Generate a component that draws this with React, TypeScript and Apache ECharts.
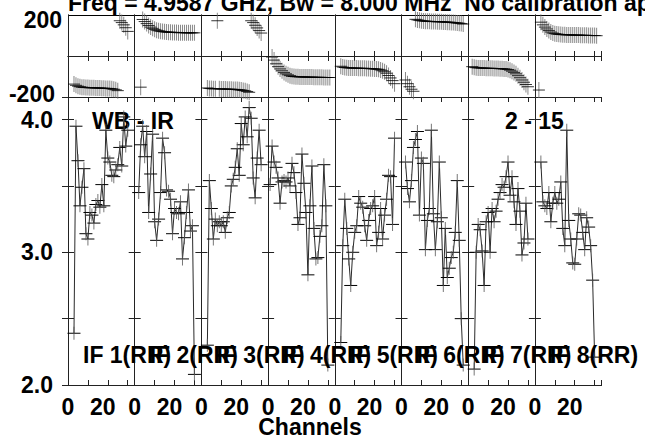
import React, { useEffect, useRef } from "react";
import * as echarts from "echarts";

// ---------- data ----------
const TITLE = "Freq = 4.9587 GHz, Bw = 8.000 MHz  No calibration applied";
const BASELINE_LABEL = "WB - IR";
const SOURCE_LABEL = "2 - 15";
const X_NAME = "Channels";
const IF_LABELS = ["IF 1(RR)", "IF 2(RR)", "IF 3(RR)", "IF 4(RR)", "IF 5(RR)", "IF 6(RR)", "IF 7(RR)", "IF 8(RR)"];

// amplitude per channel (channels 1..32), null = no data
const AMP_IF1 = [null, null, 2.39, 3.95, 3.69, 3.35, 3.49, 3.63, 3.14, 3.10, 3.30, 3.28, 3.22, 3.36, 3.39, 3.34, 3.51, 3.35, 3.92, 3.71, 3.68, 3.58, 3.57, 3.62, 3.66, 3.79, 3.65, 4.02, 3.80, 3.92, null, null];
const AMP_IF2 = [null, 3.45, 3.81, 3.95, 3.72, 3.91, 3.30, 3.59, 3.89, 3.23, 3.09, 3.25, 3.45, 3.86, 3.75, 3.47, 3.46, 3.40, 3.14, 3.33, 3.30, 3.29, 3.38, 2.95, 3.11, 3.30, 3.47, 3.16, 3.20, 2.08, null, null];
const AMP_IF3 = [null, null, 2.30, 3.54, 3.33, 3.10, 3.25, 3.20, 3.23, 3.20, 3.23, 3.15, 3.26, 3.30, 3.50, 3.55, 3.64, 3.78, 3.58, 3.97, 3.81, 4.02, 3.87, 4.09, 4.01, 3.56, 3.41, 3.71, 3.92, 3.66, null, null];
const AMP_IF4 = [3.51, 3.80, 3.68, 3.64, 3.56, 3.37, 3.53, 3.54, 3.53, 3.56, 3.50, 3.67, 3.60, 3.45, 3.21, 3.26, 3.74, 3.52, 3.30, 2.83, 3.35, 3.65, 3.18, 2.95, 2.96, 3.12, 3.20, 3.66, 3.35, 2.15, null, null];
const AMP_IF5 = [null, null, 2.32, 3.05, 3.40, 3.18, 2.95, 2.75, 3.00, 3.15, 3.20, 3.42, 3.37, 3.34, 3.20, 3.09, 3.24, 3.33, 3.35, 3.42, 3.05, 3.15, 3.33, 3.10, 3.28, 3.40, 3.58, 3.57, 3.21, 3.86, null, null];
const AMP_IF6 = [null, 3.68, 3.48, 3.38, 3.54, 3.79, 3.85, 3.91, 3.28, 3.71, 3.67, 3.02, 3.24, 3.33, 3.92, 3.29, 3.02, 3.23, 3.68, 3.26, 2.75, 3.18, 2.81, 2.88, 2.96, 3.00, 3.15, 3.54, 3.09, 2.50, 2.15, null];
const AMP_IF7 = [null, null, 2.12, 3.00, 3.21, 3.17, 3.01, 2.75, 3.23, 3.30, 3.00, 3.33, 3.23, 3.31, 3.40, 3.45, 3.51, 3.49, 3.57, 3.68, 3.43, 3.57, 3.38, 3.21, 3.48, 3.31, 2.98, 3.07, 3.37, 3.10, null, null];
const AMP_IF8 = [null, null, 3.68, 3.38, 3.35, 3.33, 3.45, 3.23, 3.37, 3.45, 3.37, 3.40, 3.53, 3.18, 3.05, 3.92, 3.24, 3.10, 2.92, 2.91, 3.10, 3.29, 3.28, 3.15, 3.02, 3.26, 3.19, 3.05, 2.79, 2.21, null, null];

// phase (degrees) per channel (channels 1..32)
const PHASE_IF1 = [null, null, -137, -143, -147, -150, -152, -153, -154, -154, -155, -155, -155, -156, -156, -156, -157, -157, -158, -158, -159, -160, -162, -165, -169, 172, 163, 152, 138, 120, null, null];
const PHASE_IF2 = [null, null, -152, 178, 168, 158, 149, 141, 135, 130, 126, 123, 121, 119, 118, 117, 116, 116, 115, 115, 115, 114, 114, 114, 114, 113, 113, 113, 113, 113, null, null];
const PHASE_IF3 = [null, null, -156, -158, -159, -160, -160, 172, -160, -161, -161, -161, -162, -162, -162, -163, -163, -164, -165, -166, -168, -170, -173, -177, 172, 163, 150, 137, 124, 112, null, null];
const PHASE_IF4 = [null, -5, -20, -38, -52, -63, -72, -80, -87, -92, -96, -99, -100, -101, -101, -102, -102, -102, -103, -103, -103, -103, -104, -104, -104, -104, -104, -105, -105, -105, -105, null];
const PHASE_IF5 = [null, null, -50, -54, -56, -57, -58, -58, -59, -59, -59, -60, -60, -60, -60, -61, -61, -62, -62, -63, -64, -65, -68, -72, -77, -84, -95, -107, -120, -135, null, null];
const PHASE_IF6 = [null, -117, -135, -150, -162, -172, 179, 176, 174, 172, 171, 170, 169, 169, 168, 168, 168, 167, 167, 167, 166, 166, 165, 165, 164, 163, 162, 161, 160, 158, 156, null];
const PHASE_IF7 = [null, -52, -55, -57, -58, -58, -59, -59, -60, -60, -60, -60, -61, -61, -61, -62, -62, -63, -64, -66, -69, -74, -80, -87, -96, -106, -117, -128, -139, -150, null, null];
const PHASE_IF8 = [null, -166, 165, 152, 141, 132, 124, 117, 112, 109, 107, 106, 105, 104, 104, 103, 103, 103, 102, 102, 102, 102, 101, 101, 101, 101, 100, 100, 100, 100, 99, null];

const AMP = [AMP_IF1, AMP_IF2, AMP_IF3, AMP_IF4, AMP_IF5, AMP_IF6, AMP_IF7, AMP_IF8];
const PHASE = [PHASE_IF1, PHASE_IF2, PHASE_IF3, PHASE_IF4, PHASE_IF5, PHASE_IF6, PHASE_IF7, PHASE_IF8];

// ---------- layout ----------
const LEFT = 68;
const PANEL_W = 66.7;
const PHASE_TOP = 15;
const PHASE_H = 82;
const AMP_TOP = 97;
const AMP_H = 288;
const FONT = "'Liberation Sans', Arial, Helvetica, sans-serif";
const FS = 23;

const toPairs = (arr: (number | null)[]) =>
  arr.map((v, i) => (v == null ? null : [i + 1, v])).filter((p) => p !== null) as number[][];

const txt = (extra: any = {}) => ({ fontSize: FS, fontWeight: "bold", fontFamily: FONT, color: "#000", ...extra });

function buildOption() {
  const grid: any[] = [];
  const xAxis: any[] = [];
  const yAxis: any[] = [];
  const series: any[] = [];
  const axisLine = { show: true, lineStyle: { color: "#222", width: 1 } };

  for (let i = 0; i < 8; i++) {
    const left = LEFT + i * PANEL_W;
    const gp = grid.length;
    grid.push({ left, width: PANEL_W, top: PHASE_TOP, height: PHASE_H });
    const ga = grid.length;
    grid.push({ left, width: PANEL_W, top: AMP_TOP, height: AMP_H });

    const xa = (gridIndex: number, position: string, labels: boolean) => ({
      type: "value",
      gridIndex,
      position,
      min: 0,
      max: 33.5,
      interval: 10,
      axisLine,
      axisTick: { show: true, inside: true, length: 5, lineStyle: { color: "#222" } },
      splitLine: { show: false },
      axisLabel: labels
        ? {
            show: true,
            margin: 10,
            ...txt(),
            formatter: (v: number) => (v === 0 ? "{a|0}" : v === 20 ? "{b|20}" : ""),
            rich: { a: txt(), b: txt({ padding: [0, 10, 0, 0] }) },
          }
        : { show: false },
    });
    const xpBottom = xAxis.length;
    xAxis.push(xa(gp, "bottom", false));
    xAxis.push(xa(gp, "top", false));
    const xaBottom = xAxis.length;
    xAxis.push(xa(ga, "bottom", true));
    xAxis.push(xa(ga, "top", false));

    const ypLeft = yAxis.length;
    yAxis.push({
      type: "value",
      gridIndex: gp,
      position: "left",
      min: -200,
      max: 200,
      interval: 200,
      axisLine,
      axisTick: { show: false },
      splitLine: { show: true, lineStyle: { color: "#000", width: 1 } },
      axisLabel:
        i === 0
          ? {
              show: true,
              margin: 6,
              ...txt(),
              formatter: (v: number) => (v === 200 ? "{t|200}" : v === -200 ? "{m|-200}" : ""),
              rich: { t: txt({ padding: [10, 0, 0, 0] }), m: txt({ padding: [0, 7, 6, 0] }) },
            }
          : { show: false },
    });
    yAxis.push({
      type: "value",
      gridIndex: gp,
      position: "right",
      min: -200,
      max: 200,
      interval: 200,
      axisLine,
      axisTick: { show: false },
      splitLine: { show: false },
      axisLabel: { show: false },
    });
    const yaLeft = yAxis.length;
    const ampAxis = (position: string, labels: boolean) => ({
      type: "value",
      gridIndex: ga,
      position,
      min: 2,
      max: 4.17,
      interval: 0.5,
      axisLine,
      axisTick: { show: true, inside: true, length: 6, lineStyle: { color: "#222" } },
      splitLine: { show: false },
      axisLabel: labels
        ? {
            show: true,
            margin: 15,
            ...txt(),
            formatter: (v: number) => (v === 2 || v === 3 || v === 4 ? v.toFixed(1) : ""),
          }
        : { show: false },
    });
    yAxis.push(ampAxis("left", i === 0));
    yAxis.push(ampAxis("right", false));

    const ph = toPairs(PHASE[i]);
    const am = toPairs(AMP[i]);

    series.push({
      type: "scatter",
      xAxisIndex: xpBottom,
      yAxisIndex: ypLeft,
      data: ph,
      symbol: "rect",
      symbolSize: [1, 16],
      itemStyle: { color: "#6a6a6a" },
      z: 3,
    });
    series.push({
      type: "scatter",
      xAxisIndex: xpBottom,
      yAxisIndex: ypLeft,
      data: ph,
      symbol: "rect",
      symbolSize: [12, 1],
      itemStyle: { color: "#000" },
      z: 4,
    });
    series.push({
      type: "line",
      xAxisIndex: xaBottom,
      yAxisIndex: yaLeft,
      data: am,
      symbol: "rect",
      symbolSize: [13, 1],
      showSymbol: true,
      itemStyle: { color: "#000" },
      lineStyle: { color: "#2a2a2a", width: 1 },
      z: 3,
    });
    series.push({
      type: "scatter",
      xAxisIndex: xaBottom,
      yAxisIndex: yaLeft,
      data: am,
      symbol: "rect",
      symbolSize: [1, 13],
      itemStyle: { color: "#555" },
      z: 4,
    });
  }

  const graphic: any[] = [
    { type: "text", left: LEFT, top: -9, style: { text: TITLE, font: `bold ${FS}px ${FONT}`, fill: "#000" } },
    { type: "text", x: 92, y: 121, style: { text: BASELINE_LABEL, font: `bold ${FS}px ${FONT}`, fill: "#000", verticalAlign: "middle" } },
    { type: "text", x: 505, y: 121, style: { text: SOURCE_LABEL, font: `bold ${FS}px ${FONT}`, fill: "#000", verticalAlign: "middle" } },
    { type: "text", x: 310, y: 427, style: { text: X_NAME, font: `bold ${FS}px ${FONT}`, fill: "#000", align: "center", verticalAlign: "middle" } },
  ];
  IF_LABELS.forEach((lab, i) => {
    graphic.push({
      type: "text",
      x: 83 + i * PANEL_W,
      y: 355,
      z: 10,
      style: { text: lab, font: `bold ${FS}px ${FONT}`, fill: "#000", verticalAlign: "middle" },
    });
  });

  return { animation: false, backgroundColor: "#fff", grid, xAxis, yAxis, series, graphic };
}

export default function App() {
  const ref = useRef<HTMLDivElement>(null);
  useEffect(() => {
    if (!ref.current) return;
    const chart = echarts.init(ref.current, undefined, { renderer: "svg" });
    chart.setOption(buildOption() as any);
    return () => chart.dispose();
  }, []);
  return <div ref={ref} style={{ position: "fixed", left: 0, top: 0, width: 645, height: 440, background: "#fff" }} />;
}
